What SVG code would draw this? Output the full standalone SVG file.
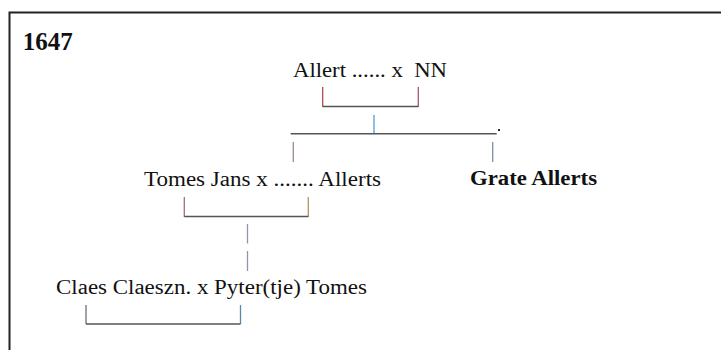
<svg xmlns="http://www.w3.org/2000/svg" width="721" height="350" viewBox="0 0 721 350">
<style>
text{font-family:'Liberation Serif','DejaVu Serif',serif;font-size:20px;fill:#111}
.b{font-weight:bold}
.h{stroke:#555;stroke-width:1.5;fill:none}
.v{stroke-width:1.3;fill:none}
</style>
<rect width="721" height="350" fill="#fff"/>
<path d="M9.5,350 V12.5 H721" fill="none" stroke="#222" stroke-width="2"/>
<g id="year"><text class="b" x="22.7" y="50" style="font-size:26px" textLength="50" lengthAdjust="spacingAndGlyphs">1647</text></g>
<g id="allert"><text x="293" y="77" textLength="154" lengthAdjust="spacingAndGlyphs">Allert ...... x&#160; NN</text></g>
<g id="tomes"><text x="144" y="186" textLength="237" lengthAdjust="spacingAndGlyphs">Tomes Jans x ....... Allerts</text></g>
<g id="grate"><text class="b" x="470" y="185" textLength="127" lengthAdjust="spacingAndGlyphs">Grate Allerts</text></g>
<g id="claes"><text x="56" y="294" textLength="311" lengthAdjust="spacingAndGlyphs">Claes Claeszn. x Pyter(tje) Tomes</text></g>
<g id="connectors">
<line class="v" x1="322.7" y1="87" x2="322.7" y2="107" stroke="#b24a55"/>
<line class="v" x1="418.3" y1="87" x2="418.3" y2="107" stroke="#a05a70"/>
<line class="h" x1="322.7" y1="106.5" x2="418.3" y2="106.5"/>
<line class="v" x1="374" y1="115" x2="374" y2="134" stroke="#4a9fd6"/>
<line class="h" x1="290.7" y1="133.7" x2="496.7" y2="133.7"/>
<rect x="498" y="129" width="2" height="2" fill="#223"/>
<line class="v" x1="293.3" y1="142" x2="293.3" y2="162" stroke="#9a8a90"/>
<line class="v" x1="492.7" y1="142" x2="492.7" y2="162" stroke="#7890aa"/>
<line class="v" x1="184.3" y1="197" x2="184.3" y2="217" stroke="#a07080"/>
<line class="v" x1="308.3" y1="197" x2="308.3" y2="217" stroke="#b89060"/>
<line class="h" x1="184.3" y1="216.5" x2="308.3" y2="216.5"/>
<line class="v" x1="247.5" y1="224" x2="247.5" y2="243.5" stroke="#9a90a8"/>
<line class="v" x1="247.5" y1="251" x2="247.5" y2="271" stroke="#9a90a8"/>
<line class="v" x1="86" y1="305" x2="86" y2="324" stroke="#6a7080"/>
<line class="v" x1="240.5" y1="305" x2="240.5" y2="324" stroke="#5a88a8"/>
<line class="h" x1="86" y1="324" x2="240.5" y2="324"/>
</g>
</svg>
